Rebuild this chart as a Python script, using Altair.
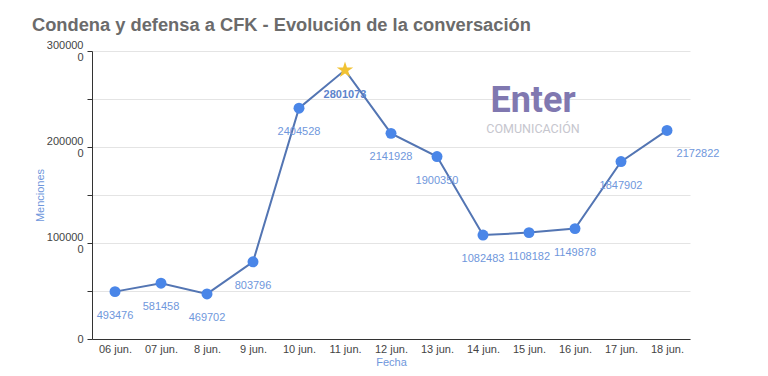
import altair as alt
import pandas as pd

fechas = ["06 jun.", "07 jun.", "8 jun.", "9 jun.", "10 jun.", "11 jun.", "12 jun.",
          "13 jun.", "14 jun.", "15 jun.", "16 jun.", "17 jun.", "18 jun."]
menciones = [493476, 581458, 469702, 803796, 2404528, 2801073, 2141928,
             1900350, 1082483, 1108182, 1149878, 1847902, 2172822]
y_ticks = [0, 500000, 1000000, 1500000, 2000000, 2500000, 3000000]

df = pd.DataFrame({"Fecha": fechas, "Menciones": menciones})
peak_fecha = fechas[menciones.index(max(menciones))]
last_fecha = fechas[-1]

FONT = "Liberation Sans"
LABEL_BLUE = "#6f97dc"
POINT_BLUE = "#4a86e8"
LINE_BLUE = "#5375b3"
STAR_PATH = ("M0,-1L0.2245,-0.309L0.9511,-0.309L0.3633,0.118L0.5878,0.809"
             "L0,0.382L-0.5878,0.809L-0.3633,0.118L-0.9511,-0.309L-0.2245,-0.309Z")

x_enc = alt.X(
    "Fecha:N", sort=fechas,
    scale=alt.Scale(type="point", padding=0.5),
    axis=alt.Axis(
        orient="bottom",
        title="Fecha", titleColor=LABEL_BLUE, titleFontSize=11, titleFontWeight="normal",
        titleFont=FONT, titleY=23, titleBaseline="middle",
        labelAngle=0, labelColor="#444444", labelFontSize=11, labelFont=FONT,
        labelPadding=4, ticks=False, grid=False, domainColor="#333333", domainWidth=1,
    ),
)
y_enc = alt.Y(
    "Menciones:Q",
    scale=alt.Scale(domain=[0, 3000000], nice=False),
    axis=alt.Axis(
        orient="left",
        values=y_ticks,
        labelExpr=(
            "datum.value % 1000000 != 0 ? '' : (datum.value == 0 ? '0' : "
            "[slice(format(datum.value, 'd'), 0, 6), slice(format(datum.value, 'd'), 6)])"
        ),
        labelOffset={"condition": {"test": "datum.value === 0", "value": 0}, "value": -6},
        labelLineHeight=12, labelColor="#444444", labelFontSize=11, labelFont=FONT,
        labelPadding=4, tickSize=5, tickColor="#333333", domainColor="#333333",
        grid=True, gridColor="#e4e4e4",
        title="Menciones", titleColor=LABEL_BLUE, titleFontSize=11, titleFontWeight="normal",
        titleFont=FONT, titleX=-52, titleY=144, titleAlign="center", titleBaseline="middle",
    ),
)

base = alt.Chart(df).encode(x=x_enc, y=y_enc)

line = base.mark_line(color=LINE_BLUE, strokeWidth=2)

points = base.transform_filter(alt.datum.Fecha != peak_fecha).mark_point(
    shape="circle", filled=True, size=120, color=POINT_BLUE, opacity=1
)
star = base.transform_filter(alt.datum.Fecha == peak_fecha).mark_point(
    shape=STAR_PATH, filled=True, size=300, color="#f1c232", opacity=1
)

labels = base.transform_filter(
    (alt.datum.Fecha != peak_fecha) & (alt.datum.Fecha != last_fecha)
).mark_text(dy=24, fontSize=11, font=FONT, color=LABEL_BLUE).encode(
    text=alt.Text("Menciones:Q", format="d")
)
last_label = base.transform_filter(alt.datum.Fecha == last_fecha).mark_text(
    dy=24, dx=31, fontSize=11, font=FONT, color=LABEL_BLUE
).encode(text=alt.Text("Menciones:Q", format="d"))
peak_label = base.transform_filter(alt.datum.Fecha == peak_fecha).mark_text(
    dy=25, fontSize=11, font=FONT, color="#5d84cc", fontWeight="bold"
).encode(text=alt.Text("Menciones:Q", format="d"))

logo_main = base.transform_filter(alt.datum.Fecha == fechas[0]).mark_text(
    text="Enter", fontSize=36, fontWeight="bold", font="Roboto", color="#8078b0",
    align="center", baseline="middle"
).encode(x=alt.value(441), y=alt.value(50))

logo_sub = base.transform_filter(alt.datum.Fecha == fechas[0]).mark_text(
    text="COMUNICACIÓN", fontSize=12.5, font="Roboto", color="#c6c6ce",
    align="center", baseline="middle"
).encode(x=alt.value(441), y=alt.value(78))

chart = alt.layer(line, points, star, labels, last_label, peak_label, logo_main, logo_sub).properties(
    width=598,
    height=288,
    padding={"left": 84, "top": 43, "right": 66, "bottom": 28},
    autosize=alt.AutoSizeParams(type="none"),
    title=alt.TitleParams(
        text="Condena y defensa a CFK - Evolución de la conversación",
        anchor="start", frame="group", dx=-60, offset=4,
        fontSize=18.3, fontWeight="bold", color="#6b6b6b", font=FONT,
    ),
).configure_view(stroke=None)

chart.save("out.html", embed_options={"renderer": "svg", "actions": False})
